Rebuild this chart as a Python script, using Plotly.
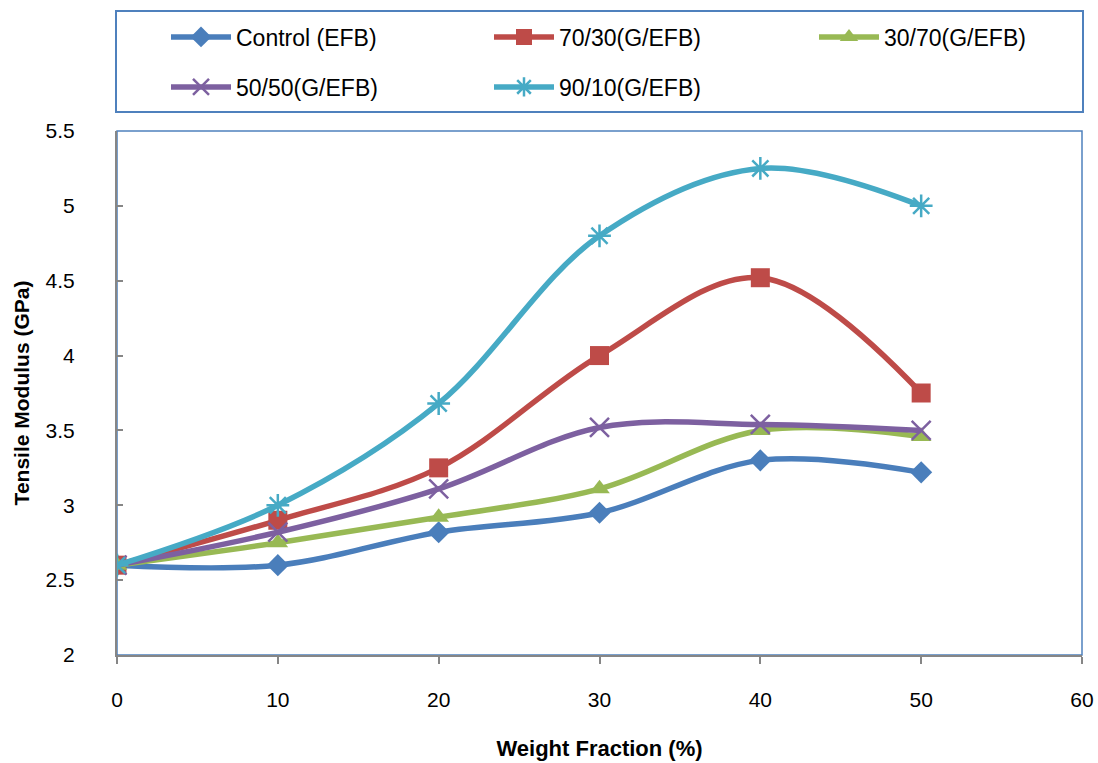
import plotly.graph_objects as go

# Weight fraction of fibre (%)
weight_fraction = [0, 10, 20, 30, 40, 50]

# Tensile modulus (GPa) for each fibre ratio
control_efb = [2.60, 2.60, 2.82, 2.95, 3.30, 3.22]
g70_efb30 = [2.60, 2.90, 3.25, 4.00, 4.52, 3.75]
g30_efb70 = [2.60, 2.75, 2.92, 3.11, 3.50, 3.46]
g50_efb50 = [2.60, 2.82, 3.11, 3.52, 3.54, 3.50]
g90_efb10 = [2.60, 3.00, 3.68, 4.80, 5.25, 5.00]

x_ticks = [0, 10, 20, 30, 40, 50, 60]
y_ticks = [2, 2.5, 3, 3.5, 4, 4.5, 5, 5.5]

FONT = "Liberation Sans, Arial, sans-serif"

L, R, T, B = 117, 16, 131, 108
W, H = 1098, 763
pw, ph = W - L - R, H - T - B


def px(xp):
    return (xp - L) / pw


def py(yp):
    return (H - B - yp) / ph


# name, values, colour, symbol, size, legend id, legend entry position (px)
series = [
    ("Control (EFB)", control_efb, "#4A7EBB", "diamond", 17, "legend", (166, 37)),
    ("70/30(G/EFB)", g70_efb30, "#BE4B48", "square", 19, "legend2", (489, 37)),
    ("30/70(G/EFB)", g30_efb70, "#98B954", "triangle-up", 18, "legend3", (814, 37)),
    ("50/50(G/EFB)", g50_efb50, "#7D60A0", "x-thin-open", 19, "legend4", (166, 87)),
    ("90/10(G/EFB)", g90_efb10, "#46AAC5", "asterisk-open", 19, "legend5", (489, 87)),
]

fig = go.Figure()
legend_font = dict(family=FONT, size=23, color="#000000")
legend_layout = {}
for name, vals, color, symbol, size, leg, (lx, ly) in series:
    open_sym = symbol.endswith("open")
    fig.add_trace(go.Scatter(
        x=weight_fraction, y=vals, name=name, mode="lines+markers",
        line=dict(color=color, width=5.5, shape="spline", smoothing=1),
        marker=dict(symbol=symbol, size=size, color=color,
                    line=dict(color=color, width=2.5 if open_sym else 0)),
        legend=leg, showlegend=True,
    ))
    legend_layout[leg] = dict(
        orientation="h", x=px(lx), xanchor="left", y=py(ly), yanchor="middle",
        font=legend_font, itemwidth=60, bgcolor="rgba(0,0,0,0)", borderwidth=0,
    )

fig.update_layout(
    width=W, height=H,
    showlegend=True,
    margin=dict(l=L, r=R, t=T, b=B, autoexpand=False),
    paper_bgcolor="white", plot_bgcolor="white",
    font=dict(family=FONT, color="#000000"),
    shapes=[
        dict(type="rect", xref="paper", yref="paper", x0=px(116), x1=px(1083),
             y0=py(112), y1=py(11), line=dict(color="#4F81BD", width=2), layer="below"),
        dict(type="rect", xref="paper", yref="paper", x0=0, x1=1, y0=0, y1=1,
             line=dict(color="#4F81BD", width=1.5), layer="below"),
    ],
    **legend_layout,
)

fig.update_xaxes(
    range=[0, 60], tickvals=x_ticks, ticktext=[str(v) for v in x_ticks],
    showgrid=False, zeroline=False, showline=True, linecolor="#868686", linewidth=2,
    ticks="outside", ticklen=7, tickwidth=1.5, tickcolor="#868686",
    tickfont=dict(family=FONT, size=21), ticklabelstandoff=18,
    title=dict(text="<b>Weight Fraction (%)</b>", font=dict(family=FONT, size=22), standoff=30),
)
fig.update_yaxes(
    range=[2, 5.5], tickvals=y_ticks, ticktext=[f"{v:g}" for v in y_ticks],
    showgrid=False, zeroline=False, showline=True, linecolor="#868686", linewidth=2,
    ticks="inside", ticklen=6, tickwidth=1.5, tickcolor="#868686",
    tickfont=dict(family=FONT, size=21), ticklabelstandoff=36,
    title=dict(text="<b>Tensile Modulus (GPa)</b>", font=dict(family=FONT, size=21), standoff=10),
)

fig.write_html("out.html")
